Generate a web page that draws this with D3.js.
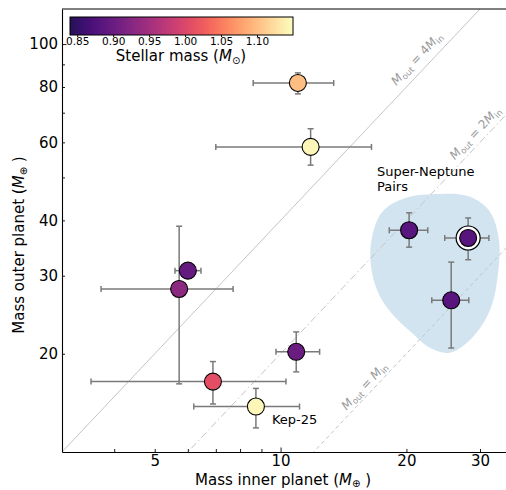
<!DOCTYPE html>
<html>
<head>
<meta charset="utf-8">
<script src="https://cdn.jsdelivr.net/npm/d3@7"></script>
<style>
  html, body { margin: 0; padding: 0; background: #fff; }
  svg { display: block; font-family: "DejaVu Sans", sans-serif; }
</style>
</head>
<body>
<svg id="chart" width="506" height="490"></svg>
<script>
// ---- data ----
const pairNames   = ["P1", "P2", "P3", "P4", "P5", "Kep-25", "P7", "SN1", "SN2", "SN3"];
const massIn      = [11.0, 11.8, 6.0, 5.72, 6.89, 8.73, 10.9, 20.3, 28.1, 25.6];
const massInLo    = [8.6, 7.0, 5.59, 3.72, 3.52, 6.2, 9.75, 18.2, 24.7, 23.0];
const massInHi    = [13.4, 16.5, 6.45, 7.7, 10.3, 11.1, 12.4, 22.5, 31.5, 28.2];
const massOut     = [81.7, 58.6, 30.8, 28.0, 17.3, 15.2, 20.2, 38.0, 36.5, 26.4];
const massOutLo   = [77.2, 53.3, 30.1, 17.1, 15.4, 13.6, 18.2, 34.8, 32.6, 20.6];
const massOutHi   = [86.1, 64.4, 31.5, 38.8, 19.2, 16.7, 22.4, 41.6, 40.5, 32.2];
const stellarMass = [1.10, 1.145, 0.895, 0.93, 1.01, 1.145, 0.90, 0.885, 0.885, 0.885];
const ringed      = [false, false, false, false, false, false, false, false, true, false];

const xTicks = [4, 5, 6, 7, 8, 9, 10, 20, 30];
const xTickLabels = [5, 10, 20, 30];
const yTicks = [20, 30, 40, 50, 60, 70, 80, 90, 100];
const yTickLabels = [20, 30, 40, 60, 80, 100];
const cbarTicks = [0.85, 0.90, 0.95, 1.00, 1.05, 1.10];
const cbarRange = [0.84, 1.15];

const ratioLines = [4, 2, 1];
const ratioLabelX = [22.2, 30.4, 16.4];

// Super-Neptune region outline (data coords: inner mass, outer mass)
const blobIn  = [24.1, 28.4, 31.7, 33.3, 33.1, 31.7, 28.7, 25.4, 22.8, 20.6, 18.7, 17.3, 16.5, 16.5, 17.5, 19.8];
const blobOut = [45.9, 45.2, 41.8, 36.1, 30.1, 25.1, 21.7, 20.1, 20.6, 22.3, 24.3, 26.9, 30.9, 36.1, 41.8, 44.9];

// ---- layout ----
const svg = d3.select("#chart");
const L = 62, T = 9, B = 452, R = 508;
const x = d3.scaleLog().domain([3, 35]).range([L, R]);
const y = d3.scaleLog().domain([12, 120]).range([B, T]);
const cmap = t => d3.interpolateMagma(0.15 + 0.85 * t);
const cnorm = d3.scaleLinear().domain(cbarRange).range([0, 1]).clamp(true);

svg.append("rect").attr("width", 506).attr("height", 490).attr("fill", "#fff");

svg.append("defs").append("clipPath").attr("id", "clip")
  .append("rect").attr("x", L).attr("y", T).attr("width", R - L).attr("height", B - T);

const plot = svg.append("g").attr("clip-path", "url(#clip)");

// blob
const blobPts = blobIn.map((v, i) => [x(v), y(blobOut[i])]);
plot.append("path")
  .attr("d", d3.line().curve(d3.curveCatmullRomClosed.alpha(0.5))(blobPts))
  .attr("fill", "#1f77b4").attr("fill-opacity", 0.2).attr("stroke", "none");

// ratio lines
const dashes = [null, "7,3,1.5,3", "4,3"];
ratioLines.forEach((k, i) => {
  plot.append("line")
    .attr("x1", x(3)).attr("y1", y(3 * k))
    .attr("x2", x(35)).attr("y2", y(35 * k))
    .attr("stroke", "#c4c4c4").attr("stroke-width", 1)
    .attr("stroke-dasharray", dashes[i]);
});

// ratio labels
const ang = Math.atan2(y(120) - y(12), x(30) - x(3)) * 180 / Math.PI;
const ratioOffsets = [-8, -6, -4.5];
ratioLines.forEach((k, i) => {
  const px = x(ratioLabelX[i]), py = y(ratioLabelX[i] * k);
  const t = svg.append("text")
    .attr("transform", `translate(${px},${py}) rotate(${ang})`)
    .attr("y", ratioOffsets[i])
    .attr("text-anchor", "middle")
    .attr("font-size", 12).attr("fill", "#999");
  t.append("tspan").attr("font-style", "italic").text("M");
  t.append("tspan").attr("font-size", 8.5).attr("dy", 2.5).text("out");
  t.append("tspan").attr("dy", -2.5).text(k === 1 ? " = " : ` = ${k}`);
  t.append("tspan").attr("font-style", "italic").text("M");
  t.append("tspan").attr("font-size", 8.5).attr("dy", 2.5).text("in");
});

// error bars
const eb = plot.append("g").attr("stroke", "#7a7a7a").attr("stroke-width", 1.5);
const cap = 3;
massIn.forEach((v, i) => {
  const cx = x(v), cy = y(massOut[i]);
  eb.append("line").attr("x1", x(massInLo[i])).attr("x2", x(massInHi[i])).attr("y1", cy).attr("y2", cy);
  eb.append("line").attr("x1", x(massInLo[i])).attr("x2", x(massInLo[i])).attr("y1", cy - cap).attr("y2", cy + cap);
  eb.append("line").attr("x1", x(massInHi[i])).attr("x2", x(massInHi[i])).attr("y1", cy - cap).attr("y2", cy + cap);
  eb.append("line").attr("x1", cx).attr("x2", cx).attr("y1", y(massOutLo[i])).attr("y2", y(massOutHi[i]));
  eb.append("line").attr("x1", cx - cap).attr("x2", cx + cap).attr("y1", y(massOutLo[i])).attr("y2", y(massOutLo[i]));
  eb.append("line").attr("x1", cx - cap).attr("x2", cx + cap).attr("y1", y(massOutHi[i])).attr("y2", y(massOutHi[i]));
});

// points
massIn.forEach((v, i) => {
  if (ringed[i]) {
    plot.append("circle").attr("cx", x(v)).attr("cy", y(massOut[i])).attr("r", 12)
      .attr("fill", "#fff").attr("stroke", "#000").attr("stroke-width", 1.2);
  }
  plot.append("circle").attr("cx", x(v)).attr("cy", y(massOut[i])).attr("r", 8.5)
    .attr("fill", cmap(cnorm(stellarMass[i]))).attr("stroke", "#000").attr("stroke-width", 1.1);
});

// annotations
svg.append("text").attr("x", 377).attr("y", 176).attr("font-size", 13).text("Super-Neptune");
svg.append("text").attr("x", 377).attr("y", 191).attr("font-size", 13).text("Pairs");
svg.append("text").attr("x", x(massIn[5]) + 16).attr("y", y(massOut[5]) + 17).attr("font-size", 13).text("Kep-25");

// axes
const xAxis = svg.append("g").attr("transform", `translate(0,${B})`)
  .call(d3.axisBottom(x).tickValues(xTicks).tickSizeInner(-3).tickSizeOuter(0).tickPadding(3)
    .tickFormat(d => xTickLabels.includes(d) ? String(d) : ""));
const yAxis = svg.append("g").attr("transform", `translate(${L},0)`)
  .call(d3.axisLeft(y).tickValues(yTicks).tickSizeInner(-3).tickSizeOuter(0).tickPadding(4)
    .tickFormat(d => yTickLabels.includes(d) ? String(d) : ""));
[xAxis, yAxis].forEach(a => {
  a.select(".domain").attr("stroke", "#000").attr("stroke-width", 1.1);
  a.selectAll(".tick line").attr("stroke", "#000").attr("stroke-width", 0.9);
  a.selectAll(".tick text").attr("font-size", 15).attr("fill", "#000").attr("font-family", "DejaVu Sans");
});
xAxis.selectAll(".tick line").attr("y2", d => d === 10 ? -4.5 : -3);
yAxis.selectAll(".tick line").attr("x2", d => d === 100 ? 4.5 : 3);
// top spine
svg.append("line").attr("x1", L).attr("x2", 506).attr("y1", T).attr("y2", T)
  .attr("stroke", "#000").attr("stroke-width", 1.1);

// axis labels
const xl = svg.append("text").attr("x", 283).attr("y", 485).attr("text-anchor", "middle").attr("font-size", 15);
xl.append("tspan").text("Mass inner planet (");
xl.append("tspan").attr("font-style", "italic").text("M");
xl.append("tspan").attr("font-size", 10).attr("dy", 2).text("⊕");
xl.append("tspan").attr("dy", -2).text(" )");

const yl = svg.append("text").attr("transform", "translate(24,245) rotate(-90)")
  .attr("text-anchor", "middle").attr("font-size", 15);
yl.append("tspan").text("Mass outer planet (");
yl.append("tspan").attr("font-style", "italic").text("M");
yl.append("tspan").attr("font-size", 10).attr("dy", 2.5).text("⊕");
yl.append("tspan").attr("dy", -2.5).text(" )");

// colorbar
const cbX0 = 70, cbX1 = 293, cbY = 17, cbH = 18;
const cx = d3.scaleLinear().domain(cbarRange).range([cbX0, cbX1]);
const grad = svg.select("defs").append("linearGradient").attr("id", "cbgrad");
d3.range(0, 1.0001, 0.05).forEach(t => {
  grad.append("stop").attr("offset", t).attr("stop-color", cmap(t));
});
svg.append("rect").attr("x", cbX0).attr("y", cbY).attr("width", cbX1 - cbX0).attr("height", cbH)
  .attr("fill", "url(#cbgrad)").attr("stroke", "#000").attr("stroke-width", 1);
const cbAxis = svg.append("g").attr("transform", `translate(0,${cbY + cbH})`)
  .call(d3.axisBottom(cx).tickValues(cbarTicks).tickSize(2).tickPadding(1).tickFormat(d3.format(".2f")));
cbAxis.select(".domain").remove();
cbAxis.selectAll(".tick text").attr("font-size", 10.5).attr("font-family", "DejaVu Sans").attr("fill", "#000");
const cl = svg.append("text").attr("x", 181).attr("y", 61).attr("text-anchor", "middle").attr("font-size", 15);
cl.append("tspan").text("Stellar mass (");
cl.append("tspan").attr("font-style", "italic").text("M");
cl.append("tspan").attr("font-size", 10).attr("dy", 3).text("⊙");
cl.append("tspan").attr("dy", -3).text(")");
</script>
</body>
</html>
